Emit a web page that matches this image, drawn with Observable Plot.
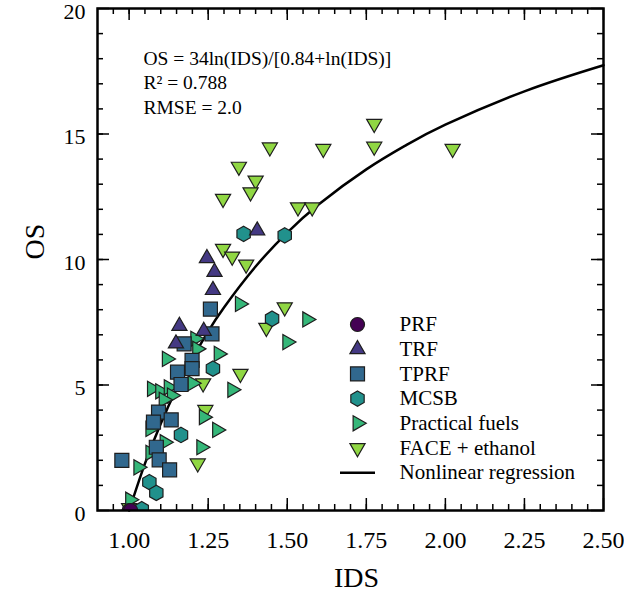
<!DOCTYPE html>
<html><head><meta charset="utf-8">
<script src="https://cdn.jsdelivr.net/npm/d3@7"></script>
<script src="https://cdn.jsdelivr.net/npm/@observablehq/plot@0.6"></script>
<style>
body{margin:0;background:#fff;}
#chart{width:624px;height:603px;}
</style>
</head><body><div id="chart"></div>
<script>
// ---------- data ----------
const seriesNames = ["PRF","TRF","TPRF","MCSB","Practical fuels","FACE + ethanol"];
const seriesColors = ["#440154","#443983","#31688e","#21918c","#35b779","#90d743"];

const prfIDS = [1.000, 1.005];
const prfOS  = [0.00, 0.00];

const trfIDS = [1.405, 1.246, 1.270, 1.265, 1.159, 1.236, 1.148];
const trfOS  = [11.15, 10.05, 9.50, 8.78, 7.35, 7.15, 6.65];

const tprfIDS = [1.257, 1.262, 1.174, 1.199, 1.199, 1.153, 1.164, 1.093, 1.077, 1.133, 1.086, 1.095, 1.128, 0.977];
const tprfOS  = [8.02, 7.04, 6.64, 5.98, 5.65, 5.51, 5.02, 3.92, 3.52, 3.61, 2.52, 2.02, 1.62, 2.00];

const mcsbIDS = [1.362, 1.492, 1.452, 1.265, 1.164, 1.064, 1.086, 1.040];
const mcsbOS  = [11.02, 10.96, 7.64, 5.65, 3.01, 1.13, 0.70, 0.05];

const practIDS = [1.350, 1.563, 1.500, 1.209, 1.215, 1.283, 1.119, 1.200, 1.326, 1.072, 1.098, 1.125, 1.135, 1.109, 1.236, 1.067, 1.278, 1.112, 1.067, 1.228, 1.029, 1.003];
const practOS  = [8.23, 7.61, 6.71, 6.84, 6.44, 6.24, 6.04, 5.07, 4.81, 4.85, 4.75, 4.91, 4.58, 4.41, 3.72, 3.25, 3.21, 2.72, 2.30, 2.52, 1.72, 0.43];

const faceIDS = [1.775, 1.445, 1.614, 1.775, 2.023, 1.347, 1.400, 1.384, 1.297, 1.534, 1.579, 1.297, 1.326, 1.370, 1.492, 1.434, 1.352, 1.234, 1.241, 1.217, 1.000];
const faceOS  = [15.41, 14.47, 14.41, 14.50, 14.41, 13.70, 13.15, 12.68, 12.42, 12.08, 12.08, 10.43, 10.12, 9.80, 8.10, 7.28, 5.45, 5.07, 4.01, 1.88, 0.10];

// regression curve
const fitIDS = [1.00, 1.05, 1.10, 1.15, 1.20, 1.25, 1.30, 1.40, 1.50, 1.60, 1.75, 1.875, 2.00, 2.25, 2.50];
const fitOS  = [0.00, 1.87, 3.46, 4.85, 6.06, 7.14, 8.09, 9.72, 11.07, 12.20, 13.59, 14.55, 15.37, 16.70, 17.74];

const xTickValues = [1.00, 1.25, 1.50, 1.75, 2.00, 2.25, 2.50];
const yTickValues = [0, 5, 10, 15, 20];
const annotationLines = ["OS = 34ln(IDS)/[0.84+ln(IDS)]", "R\u00B2 = 0.788", "RMSE = 2.0"];
const xLabel = "IDS", yLabel = "OS";
const fitLabel = "Nonlinear regression";

// ---------- symbols ----------
function makeSymbol(kind){
  return {draw(ctx, size){
    const r = Math.sqrt(size/Math.PI);
    const c30 = Math.cos(Math.PI/6);
    if(kind==="circle"){ ctx.moveTo(r,0); ctx.arc(0,0,r,0,2*Math.PI); }
    else if(kind==="up"){ const R=r*1.25; ctx.moveTo(0,-R); ctx.lineTo(R*c30,R/2); ctx.lineTo(-R*c30,R/2); ctx.closePath(); }
    else if(kind==="down"){ const R=r*1.25; ctx.moveTo(0,R); ctx.lineTo(R*c30,-R/2); ctx.lineTo(-R*c30,-R/2); ctx.closePath(); }
    else if(kind==="right"){ const R=r*1.25; ctx.moveTo(R,0); ctx.lineTo(-R/2,R*c30); ctx.lineTo(-R/2,-R*c30); ctx.closePath(); }
    else if(kind==="square"){ const h=r*1.0; ctx.moveTo(-h,-h); ctx.lineTo(h,-h); ctx.lineTo(h,h); ctx.lineTo(-h,h); ctx.closePath(); }
    else if(kind==="hex"){ const R=r*1.1; for(let k=0;k<6;k++){ const a=-Math.PI/2+k*Math.PI/3; const px=R*Math.cos(a), py=R*Math.sin(a); if(k===0) ctx.moveTo(px,py); else ctx.lineTo(px,py);} ctx.closePath(); }
    else if(kind==="dash"){ ctx.moveTo(-2.5*r,0); ctx.lineTo(2.5*r,0); }
  }};
}
const symbols = [makeSymbol("circle"), makeSymbol("up"), makeSymbol("square"), makeSymbol("hex"), makeSymbol("right"), makeSymbol("down")];
const seriesData = [[prfIDS,prfOS],[trfIDS,trfOS],[tprfIDS,tprfOS],[mcsbIDS,mcsbOS],[practIDS,practOS],[faceIDS,faceOS]];

// ---------- layout ----------
const W=624, H=603, mL=97, mR=21, mT=8, mB=93;
const fw=W-mL-mR, fh=H-mT-mB;
const FONT = "'Liberation Serif', 'Times New Roman', serif";
const xMinor = d3.range(0.95, 2.49, 0.05);
const yMinor = d3.range(1, 20, 1);
const tickStyle = {stroke:"black", strokeWidth:1.5};

const marks = [];
// inward ticks on all four sides
marks.push(Plot.ruleX(xMinor, {x:d=>d, insetTop: fh-6, ...tickStyle}));
marks.push(Plot.ruleX(xMinor, {x:d=>d, insetBottom: fh-6, ...tickStyle}));
marks.push(Plot.ruleX(xTickValues, {x:d=>d, insetTop: fh-12, ...tickStyle}));
marks.push(Plot.ruleX(xTickValues, {x:d=>d, insetBottom: fh-12, ...tickStyle}));
marks.push(Plot.ruleY(yMinor, {y:d=>d, insetRight: fw-6, ...tickStyle}));
marks.push(Plot.ruleY(yMinor, {y:d=>d, insetLeft: fw-6, ...tickStyle}));
marks.push(Plot.ruleY(yTickValues, {y:d=>d, insetRight: fw-12, ...tickStyle}));
marks.push(Plot.ruleY(yTickValues, {y:d=>d, insetLeft: fw-12, ...tickStyle}));
// tick labels
marks.push(Plot.axisX({ticks: xTickValues, tickSize:0, tickPadding:20, tickFormat:d=>d.toFixed(2), fontSize:24, label:null}));
marks.push(Plot.axisY({ticks: yTickValues, tickSize:0, tickPadding:12, tickFormat:d=>String(d), fontSize:22, dy:3, label:null}));
// regression line
marks.push(Plot.line({length: fitIDS.length}, {x: fitIDS, y: fitOS, curve:"natural", stroke:"black", strokeWidth:2.5}));
// points, drawn last series first
for(let s=seriesData.length-1; s>=0; s--){
  const [xs, ys] = seriesData[s];
  marks.push(Plot.dot({length: xs.length}, {x: xs, y: ys, r:7, symbol: symbols[s], fill: seriesColors[s], stroke:"#1e1e1e", strokeWidth:1.2, clip:true}));
}
// annotation
annotationLines.forEach((t,i)=>{
  marks.push(Plot.text([t], {frameAnchor:"top-left", dx:46, dy:50+i*24.5, text:d=>d, textAnchor:"start", lineAnchor:"middle", fontSize:19.5, fill:"black"}));
});
// legend
seriesNames.forEach((name,i)=>{
  marks.push(Plot.dot([name], {frameAnchor:"top-left", dx:260, dy:316+i*24.7, r:7, symbol: symbols[i], fill: seriesColors[i], stroke:"#1e1e1e", strokeWidth:1.2}));
  marks.push(Plot.text([name], {frameAnchor:"top-left", dx:302, dy:316+i*24.7, text:d=>d, textAnchor:"start", lineAnchor:"middle", fontSize:21, fill:"black"}));
});
marks.push(Plot.dot([fitLabel], {frameAnchor:"top-left", dx:260, dy:316+6*24.7, r:7, symbol: makeSymbol("dash"), fill:"none", stroke:"black", strokeWidth:2.5}));
marks.push(Plot.text([fitLabel], {frameAnchor:"top-left", dx:302, dy:316+6*24.7, text:d=>d, textAnchor:"start", lineAnchor:"middle", fontSize:21, fill:"black"}));
// axis titles
marks.push(Plot.text([xLabel], {frameAnchor:"bottom", dx:6, dy:68, text:d=>d, lineAnchor:"middle", fontSize:28, fill:"black"}));
marks.push(Plot.text([yLabel], {frameAnchor:"left", dx:-62, text:d=>d, rotate:-90, lineAnchor:"middle", fontSize:28, fill:"black"}));
// frame
marks.push(Plot.frame({stroke:"black", strokeWidth:2.5}));

const chart = Plot.plot({
  width:W, height:H, marginLeft:mL, marginRight:mR, marginTop:mT, marginBottom:mB,
  style:{fontFamily:FONT, background:"white", color:"black", overflow:"visible"},
  x:{domain:[0.9,2.5]}, y:{domain:[0,20]},
  marks
});
document.getElementById("chart").appendChild(chart);
</script>
</body></html>
